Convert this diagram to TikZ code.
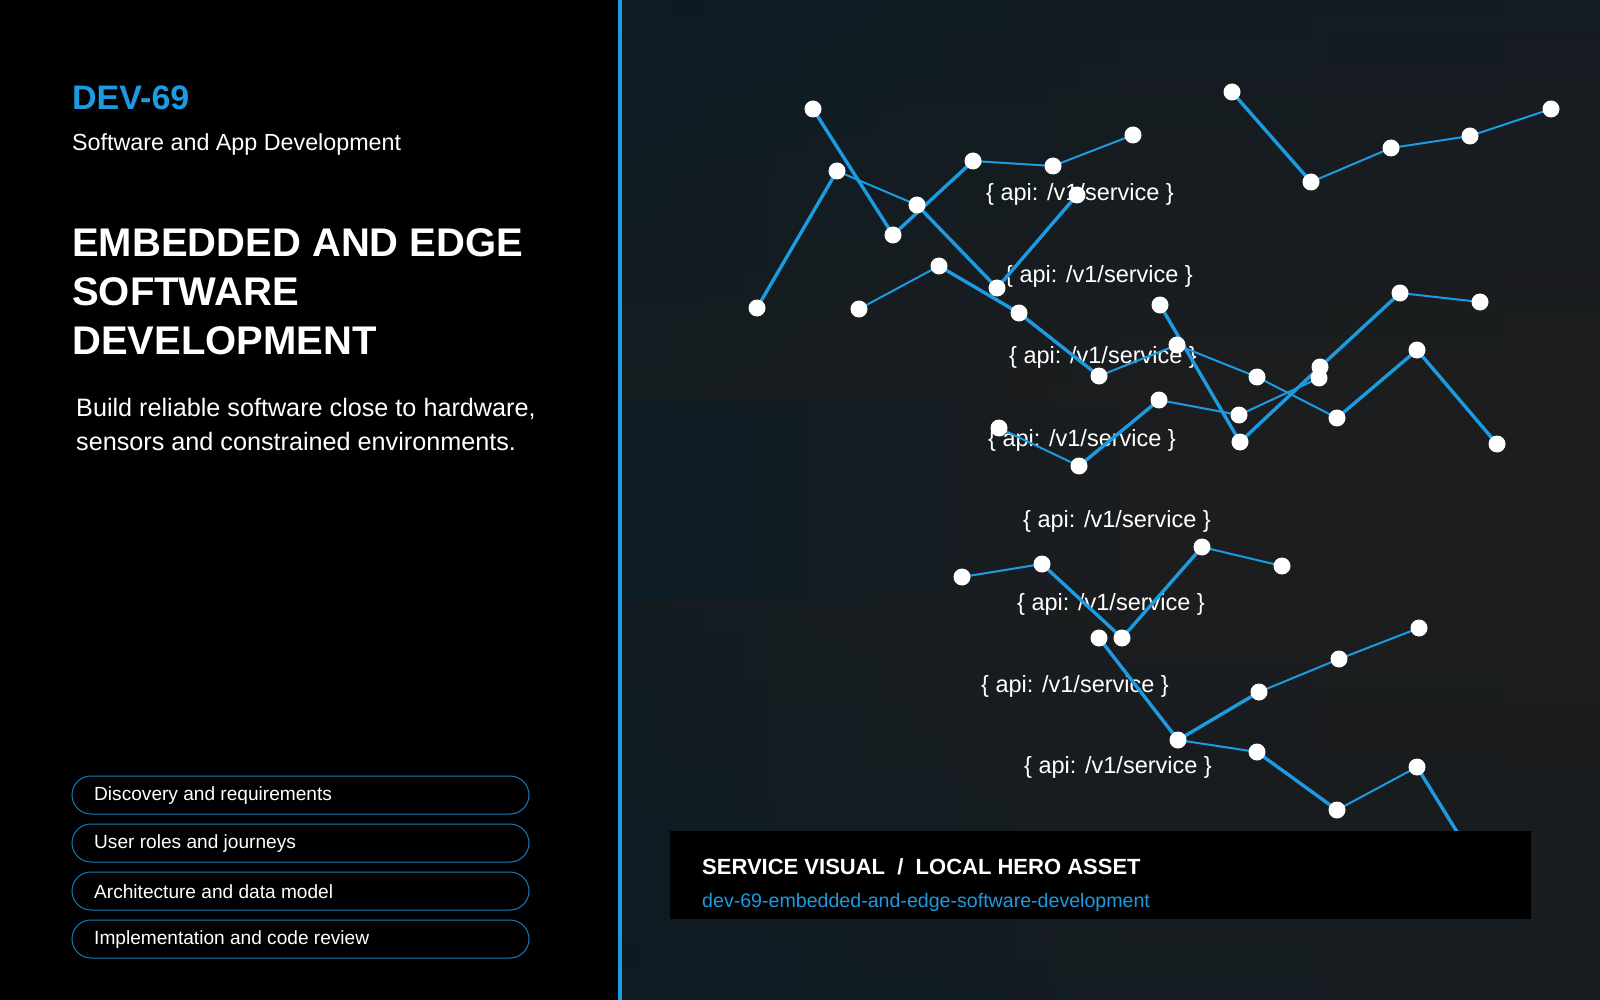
\documentclass[tikz,border=0pt]{standalone}
\usepackage{fontspec}
\setmainfont{Liberation Sans}
\usetikzlibrary{fadings}
\begin{document}
\begin{tikzpicture}[x=1pt,y=-1pt,
  thk/.style={draw=lblue,line width=3.4pt},
  thn/.style={draw=lblue,line width=2pt},
  dot/.style={circle,fill=white,inner sep=0pt,minimum size=17pt},
  lbl/.style={text=white,font=\fontsize{23.5}{27}\selectfont,inner sep=0pt},
  pill/.style={draw=lblue!80!black,line width=1pt,rounded corners=19pt,minimum width=457pt,minimum height=38pt,inner sep=0pt}]
\definecolor{lblue}{HTML}{1C9BE2}
\definecolor{bgA}{HTML}{0C1B24}
\definecolor{bgB}{HTML}{1D1D1E}
\useasboundingbox (0,0) rectangle (1600,1000);
\fill[black] (0,0) rectangle (620,1000);
\shade[left color=bgA,right color=bgB,middle color=bgB!85!bgA] (620,0) rectangle (1600,1000);
\shade[top color=bgA,bottom color=bgB,opacity=0.5] (620,0) rectangle (1600,400);
\shade[top color=bgB,bottom color=bgA,opacity=0.4] (620,600) rectangle (1600,1000);
\fill[lblue] (618,0) rectangle (621.5,1000);
% left texts
\node[anchor=base west,inner sep=0pt,text=lblue,font=\fontsize{34}{38}\selectfont\bfseries] (id) at (72,110) {DEV-69};
\node[anchor=base west,inner sep=0pt,text=white,font=\fontsize{23.3}{26}\selectfont] (sub) at (72,151) {Software and App Development};
\node[anchor=north west,inner sep=0pt,text=white,align=left,font=\fontsize{40}{49}\selectfont\bfseries] (title) at (72,228) {EMBEDDED AND EDGE\\SOFTWARE\\DEVELOPMENT};
\node[anchor=north west,inner sep=0pt,text=white,align=left,font=\fontsize{25.2}{34}\selectfont] (body) at (76,398) {Build reliable software close to hardware,\\sensors and constrained environments.};
\foreach \t [count=\i] in {Discovery and requirements,User roles and journeys,Architecture and data model,Implementation and code review}{
  \node[pill] (p\i) at (300.5,747+48*\i) {};
  \node[anchor=west,text=white,inner sep=0pt,font=\fontsize{19.1}{22}\selectfont] (pt\i) at (94,748+48*\i) {\t};
}
% labels
\foreach \x/\y [count=\i] in {1080/194,1099/276,1103/357,1082/440,1117/521,1111/604,1075/686,1118/767}
  \node[lbl] (l\i) at (\x,\y) {\{ api: /v1/service \}};
% coordinates
\foreach \n/\x/\y in {a/813/109,b/837/171,c/757/308,d/893/235,e/917/205,f/973/161,g/1053/166,h/1133/135,i/1077/195,j/997/288,k/859/309,l/939/266,m/1019/313,n/1099/376,o/999/428,p/1079/466,
 q/1160/305,r/1177/345,t/1159/400,u/1239/415,v/1240/442,w/1257/377,x/1320/367,y/1319/378,z/1337/418,aa/1400/293,bb/1480/302,cc/1417/350,dd/1497/444,
 A/962/577,B/1042/564,C/1122/638,D/1202/547,E/1282/566,F/1099/638,G/1178/740,H/1259/692,I/1339/659,J/1419/628,K/1257/752,L/1337/810,M/1417/767,
 T1/1232/92,T2/1311/182,T3/1391/148,T4/1470/136,T5/1551/109}
  \coordinate (\n) at (\x,\y);
\coordinate (Mend) at (1462,840);
\draw[thk] (c)--(b); \draw[thn] (b)--(e); \draw[thk] (e)--(j); \draw[thk] (a)--(d)--(f);
\draw[thn] (f)--(g)--(h); \draw[thk] (j)--(i); \draw[thn] (k)--(l); \draw[thk] (l)--(m)--(n);
\draw[thn] (n)--(r)--(w)--(z); \draw[thk] (z)--(cc)--(dd);
\draw[thn] (o)--(p); \draw[thk] (p)--(t); \draw[thn] (t)--(u)--(y);
\draw[thk] (q)--(v)--(x)--(aa); \draw[thn] (aa)--(bb);
\draw[thk] (T1)--(T2); \draw[thn] (T2)--(T3)--(T4)--(T5);
\draw[thn] (A)--(B); \draw[thk] (B)--(C)--(D); \draw[thn] (D)--(E);
\draw[thk] (F)--(G)--(H); \draw[thn] (H)--(I)--(J);
\draw[thn] (G)--(K); \draw[thk] (K)--(L); \draw[thn] (L)--(M); \draw[thk] (M)--(Mend);
\foreach \n in {a,b,c,d,e,f,g,h,i,j,k,l,m,n,o,p,q,r,t,u,v,w,x,y,z,aa,bb,cc,dd,A,B,C,D,E,F,G,H,I,J,K,L,M,T1,T2,T3,T4,T5}
  \node[dot] (dot\n) at (\n) {};
% caption
\node[fill=black,minimum width=861pt,minimum height=88pt,inner sep=0pt,anchor=north west] (cap) at (670,831) {};
\node[anchor=base west,inner sep=0pt,text=white,font=\fontsize{22}{25}\selectfont\bfseries] (ct) at (702,874) {SERVICE VISUAL \ / \ LOCAL HERO ASSET};
\node[anchor=base west,inner sep=0pt,text=lblue,font=\fontsize{19.6}{23}\selectfont] (cu) at (702,907) {dev-69-embedded-and-edge-software-development};
\end{tikzpicture}
\end{document}
